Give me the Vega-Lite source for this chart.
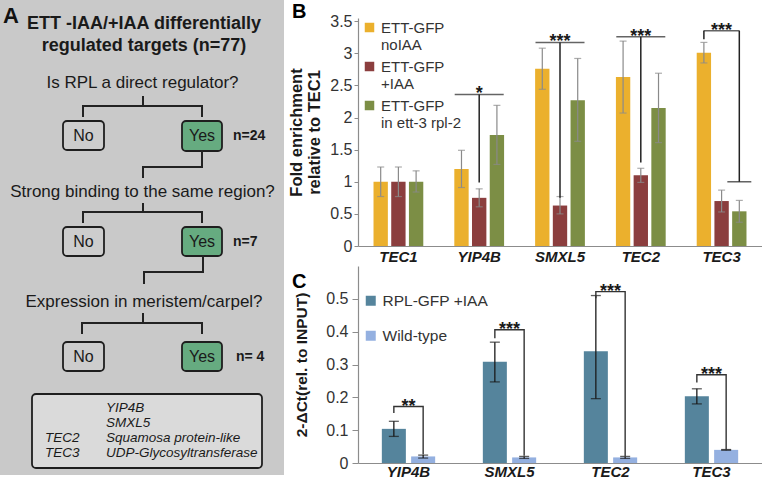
{
 "$schema": "https://vega.github.io/schema/vega-lite/v6.json",
 "padding": 0,
 "background": "white",
 "bounds": "flush",
 "spacing": 74,
 "resolve": {"scale": {"color": "independent", "fill": "independent", "xOffset": "independent"}, "legend": {"color": "independent", "fill": "independent"}},
 "config": {"font": "Liberation Sans", "view": {"stroke": null}, "axis": {"grid": false, "labelOverlap": false}, "axisY": {"labelOverlap": false}},
 "datasets": {
  "aBoxes": [
   {"x0":63,"x1":104,"y0":121,"y1":150,"kind":"no"},
   {"x0":182,"x1":222,"y0":121,"y1":151,"kind":"yes"},
   {"x0":63,"x1":104,"y0":227,"y1":256,"kind":"no"},
   {"x0":182,"x1":222,"y0":227,"y1":256,"kind":"yes"},
   {"x0":63,"x1":104,"y0":342,"y1":371,"kind":"no"},
   {"x0":182,"x1":222,"y0":342,"y1":371,"kind":"yes"},
   {"x0":32,"x1":262,"y0":394,"y1":468,"kind":"list"}
  ],
  "aLines": [
   {"x0":143,"y0":97,"x1":143,"y1":106},
   {"x0":83,"y0":106,"x1":202,"y1":106},
   {"x0":83,"y0":106,"x1":83,"y1":116},
   {"x0":202,"y0":106,"x1":202,"y1":116},
   {"x0":202,"y0":151,"x1":202,"y1":167},
   {"x0":143,"y0":167,"x1":202,"y1":167},
   {"x0":143,"y0":167,"x1":143,"y1":177},
   {"x0":143,"y0":204,"x1":143,"y1":212},
   {"x0":83,"y0":212,"x1":202,"y1":212},
   {"x0":83,"y0":212,"x1":83,"y1":222},
   {"x0":202,"y0":212,"x1":202,"y1":222},
   {"x0":203,"y0":256,"x1":203,"y1":272},
   {"x0":144,"y0":272,"x1":203,"y1":272},
   {"x0":144,"y0":272,"x1":144,"y1":283},
   {"x0":143,"y0":314,"x1":143,"y1":323},
   {"x0":82,"y0":323,"x1":202,"y1":323},
   {"x0":82,"y0":323,"x1":82,"y1":333},
   {"x0":202,"y0":323,"x1":202,"y1":333}
  ],
  "aText": [
   {"t":"A","x":3,"y":23,"role":"letter"},
   {"t":"ETT -IAA/+IAA differentially","x":144,"y":29,"role":"title"},
   {"t":"regulated targets (n=77)","x":144,"y":51,"role":"title"},
   {"t":"Is RPL a direct regulator?","x":142.5,"y":88,"role":"question"},
   {"t":"Strong binding to the same region?","x":142.5,"y":197,"role":"question"},
   {"t":"Expression in meristem/carpel?","x":144,"y":307,"role":"question"},
   {"t":"No","x":83.5,"y":136,"role":"box"},
   {"t":"Yes","x":202,"y":136,"role":"box"},
   {"t":"No","x":83.5,"y":241.5,"role":"box"},
   {"t":"Yes","x":202,"y":241.5,"role":"box"},
   {"t":"No","x":83.5,"y":357,"role":"box"},
   {"t":"Yes","x":202,"y":357,"role":"box"},
   {"t":"n=24","x":233,"y":136,"role":"n"},
   {"t":"n=7","x":233,"y":241.5,"role":"n"},
   {"t":"n= 4","x":236,"y":357,"role":"n"},
   {"t":"YIP4B","x":106,"y":412,"role":"list"},
   {"t":"SMXL5","x":106,"y":427,"role":"list"},
   {"t":"TEC2","x":45,"y":442,"role":"list"},
   {"t":"Squamosa protein-like","x":106,"y":442,"role":"list"},
   {"t":"TEC3","x":45,"y":457,"role":"list"},
   {"t":"UDP-Glycosyltransferase","x":106,"y":457,"role":"list"}
  ],
  "bData": [
   {"gene":"TEC1","series":"noIAA","value":1.0,"lo":0.77,"hi":1.23},
   {"gene":"TEC1","series":"+IAA","value":1.0,"lo":0.77,"hi":1.23},
   {"gene":"TEC1","series":"rpl","value":1.0,"lo":0.84,"hi":1.17},
   {"gene":"YIP4B","series":"noIAA","value":1.2,"lo":0.91,"hi":1.49},
   {"gene":"YIP4B","series":"+IAA","value":0.75,"lo":0.61,"hi":0.89},
   {"gene":"YIP4B","series":"rpl","value":1.73,"lo":1.27,"hi":2.19},
   {"gene":"SMXL5","series":"noIAA","value":2.76,"lo":2.44,"hi":3.08},
   {"gene":"SMXL5","series":"+IAA","value":0.63,"lo":0.5,"hi":0.77},
   {"gene":"SMXL5","series":"rpl","value":2.27,"lo":1.63,"hi":2.92},
   {"gene":"TEC2","series":"noIAA","value":2.63,"lo":2.07,"hi":3.19},
   {"gene":"TEC2","series":"+IAA","value":1.1,"lo":0.99,"hi":1.21},
   {"gene":"TEC2","series":"rpl","value":2.15,"lo":1.61,"hi":2.69},
   {"gene":"TEC3","series":"noIAA","value":3.01,"lo":2.85,"hi":3.17},
   {"gene":"TEC3","series":"+IAA","value":0.7,"lo":0.53,"hi":0.87},
   {"gene":"TEC3","series":"rpl","value":0.54,"lo":0.37,"hi":0.71}
  ],
  "bVert": [
   {"gene":"YIP4B","series":"+IAA","y1":0.99,"y2":2.36},
   {"gene":"SMXL5","series":"+IAA","y1":0.75,"y2":3.17},
   {"gene":"TEC2","series":"+IAA","y1":1.3,"y2":3.26},
   {"gene":"TEC3","series":"rpl","y1":1.0,"y2":3.35},
   {"gene":"TEC3","series":"noIAA","y1":3.22,"y2":3.35}
  ],
  "bHoriz": [
   {"gene":"YIP4B","series":"+IAA","y":2.36,"kind":"wide"},
   {"gene":"SMXL5","series":"+IAA","y":3.17,"kind":"wide"},
   {"gene":"TEC2","series":"+IAA","y":3.26,"kind":"wide"},
   {"gene":"TEC3","series":"+IAA","y":3.35,"kind":"top"},
   {"gene":"TEC3","series":"rpl","y":1.0,"kind":"low"}
  ],
  "bStars": [
   {"gene":"YIP4B","t":"*","y":2.36},
   {"gene":"SMXL5","t":"***","y":3.17},
   {"gene":"TEC2","t":"***","y":3.26},
   {"gene":"TEC3","t":"***","y":3.35}
  ],
  "cData": [
   {"gene":"YIP4B","series":"RPL-GFP +IAA","value":0.104,"lo":0.081,"hi":0.127},
   {"gene":"YIP4B","series":"Wild-type","value":0.02,"lo":0.015,"hi":0.024},
   {"gene":"SMXL5","series":"RPL-GFP +IAA","value":0.308,"lo":0.247,"hi":0.368},
   {"gene":"SMXL5","series":"Wild-type","value":0.017,"lo":0.014,"hi":0.02},
   {"gene":"TEC2","series":"RPL-GFP +IAA","value":0.34,"lo":0.196,"hi":0.51},
   {"gene":"TEC2","series":"Wild-type","value":0.017,"lo":0.014,"hi":0.02},
   {"gene":"TEC3","series":"RPL-GFP +IAA","value":0.203,"lo":0.18,"hi":0.226},
   {"gene":"TEC3","series":"Wild-type","value":0.04,"lo":0.039,"hi":0.041}
  ],
  "cBrackets": [
   {"gene":"YIP4B","series":"RPL-GFP +IAA","y":0.152,"ord":1},
   {"gene":"YIP4B","series":"RPL-GFP +IAA","y":0.172,"ord":2},
   {"gene":"YIP4B","series":"Wild-type","y":0.172,"ord":3},
   {"gene":"YIP4B","series":"Wild-type","y":0.026,"ord":4},
   {"gene":"SMXL5","series":"RPL-GFP +IAA","y":0.38,"ord":1},
   {"gene":"SMXL5","series":"RPL-GFP +IAA","y":0.406,"ord":2},
   {"gene":"SMXL5","series":"Wild-type","y":0.406,"ord":3},
   {"gene":"SMXL5","series":"Wild-type","y":0.022,"ord":4},
   {"gene":"TEC2","series":"RPL-GFP +IAA","y":0.502,"ord":1},
   {"gene":"TEC2","series":"RPL-GFP +IAA","y":0.522,"ord":2},
   {"gene":"TEC2","series":"Wild-type","y":0.522,"ord":3},
   {"gene":"TEC2","series":"Wild-type","y":0.021,"ord":4},
   {"gene":"TEC3","series":"RPL-GFP +IAA","y":0.245,"ord":1},
   {"gene":"TEC3","series":"RPL-GFP +IAA","y":0.269,"ord":2},
   {"gene":"TEC3","series":"Wild-type","y":0.269,"ord":3},
   {"gene":"TEC3","series":"Wild-type","y":0.043,"ord":4}
  ],
  "cStars": [
   {"gene":"YIP4B","t":"**","y":0.172},
   {"gene":"SMXL5","t":"***","y":0.406},
   {"gene":"TEC2","t":"***","y":0.522},
   {"gene":"TEC3","t":"***","y":0.269}
  ]
 },
 "hconcat": [
  {
   "width": 284, "height": 475,
   "view": {"fill": "#c9c9c9", "stroke": null},
   "layer": [
    {"data": {"name": "aBoxes"},
     "mark": {"type": "rect", "cornerRadius": 4, "stroke": "#1e1e1e", "strokeWidth": 1.8},
     "encoding": {
      "x": {"field": "x0", "type": "quantitative", "scale": {"domain": [0, 284], "nice": false, "zero": false}, "axis": null},
      "x2": {"field": "x1"},
      "y": {"field": "y0", "type": "quantitative", "scale": {"domain": [0, 475], "nice": false, "zero": false, "reverse": true}, "axis": null},
      "y2": {"field": "y1"},
      "fill": {"field": "kind", "type": "nominal", "scale": {"domain": ["no", "yes", "list"], "range": ["#cdcdcd", "#66ab80", "#dadada"]}, "legend": null}
     }},
    {"data": {"name": "aLines"},
     "mark": {"type": "rule", "stroke": "#222222", "strokeWidth": 2, "strokeCap": "square"},
     "encoding": {
      "x": {"field": "x0", "type": "quantitative", "axis": null},
      "x2": {"field": "x1"},
      "y": {"field": "y0", "type": "quantitative", "axis": null},
      "y2": {"field": "y1"}
     }},
    {"data": {"name": "aText"}, "transform": [{"filter": "datum.role === 'letter'"}],
     "mark": {"type": "text", "fontSize": 22, "fontWeight": "bold", "align": "left", "baseline": "alphabetic", "color": "#111"},
     "encoding": {"x": {"field": "x", "type": "quantitative", "axis": null}, "y": {"field": "y", "type": "quantitative", "axis": null}, "text": {"field": "t"}}},
    {"data": {"name": "aText"}, "transform": [{"filter": "datum.role === 'title'"}],
     "mark": {"type": "text", "fontSize": 18, "fontWeight": "bold", "align": "center", "baseline": "alphabetic", "color": "#1a1a1a"},
     "encoding": {"x": {"field": "x", "type": "quantitative", "axis": null}, "y": {"field": "y", "type": "quantitative", "axis": null}, "text": {"field": "t"}}},
    {"data": {"name": "aText"}, "transform": [{"filter": "datum.role === 'question'"}],
     "mark": {"type": "text", "fontSize": 17, "align": "center", "baseline": "alphabetic", "color": "#1a1a1a"},
     "encoding": {"x": {"field": "x", "type": "quantitative", "axis": null}, "y": {"field": "y", "type": "quantitative", "axis": null}, "text": {"field": "t"}}},
    {"data": {"name": "aText"}, "transform": [{"filter": "datum.role === 'box'"}],
     "mark": {"type": "text", "fontSize": 16, "align": "center", "baseline": "middle", "color": "#1a1a1a"},
     "encoding": {"x": {"field": "x", "type": "quantitative", "axis": null}, "y": {"field": "y", "type": "quantitative", "axis": null}, "text": {"field": "t"}}},
    {"data": {"name": "aText"}, "transform": [{"filter": "datum.role === 'n'"}],
     "mark": {"type": "text", "fontSize": 14, "fontWeight": "bold", "align": "left", "baseline": "middle", "color": "#1a1a1a"},
     "encoding": {"x": {"field": "x", "type": "quantitative", "axis": null}, "y": {"field": "y", "type": "quantitative", "axis": null}, "text": {"field": "t"}}},
    {"data": {"name": "aText"}, "transform": [{"filter": "datum.role === 'list'"}],
     "mark": {"type": "text", "fontSize": 13.5, "fontStyle": "italic", "align": "left", "baseline": "alphabetic", "color": "#1a1a1a"},
     "encoding": {"x": {"field": "x", "type": "quantitative", "axis": null}, "y": {"field": "y", "type": "quantitative", "axis": null}, "text": {"field": "t"}}}
   ]
  },
  {
   "bounds": "flush",
   "spacing": 20,
   "resolve": {"scale": {"color": "independent", "xOffset": "independent"}, "legend": {"color": "independent"}},
   "vconcat": [
    {
     "width": 404, "height": 246,
     "title": {"text": "B", "anchor": "start", "frame": "group", "fontSize": 20, "fontWeight": "bold", "color": "#000", "offset": 0, "dx": -66, "dy": 38, "baseline": "alphabetic"},
     "encoding": {
      "x": {"field": "gene", "type": "nominal", "scale": {"domain": ["TEC1", "YIP4B", "SMXL5", "TEC2", "TEC3"], "paddingInner": 0.384, "paddingOuter": 0.192},
            "axis": {"title": null, "labelAngle": 0, "labelFontSize": 15, "labelFontWeight": "bold", "labelFontStyle": "italic", "labelColor": "#1a1a1a", "ticks": false, "tickSize": 0, "labelPadding": 3, "domainColor": "#8c8c8c", "domainWidth": 1.2}},
      "y": {"type": "quantitative", "scale": {"domain": [0, 3.55], "range": [246, 18], "nice": false, "zero": false},
            "axis": {"values": [0, 0.5, 1, 1.5, 2, 2.5, 3, 3.5], "format": "~g", "labelOverlap": false, "labelFontSize": 16, "labelColor": "#333", "tickColor": "#8c8c8c", "domainColor": "#8c8c8c", "domainWidth": 1.2, "tickSize": 4, "labelPadding": 2,
                     "title": ["Fold enrichment", "relative to TEC1"], "titleFontSize": 16.5, "titleFontWeight": "bold", "titleColor": "#1a1a1a", "titlePadding": 7}}
     },
     "layer": [
      {"data": {"name": "bData"},
       "mark": {"type": "bar"},
       "encoding": {
        "xOffset": {"field": "series", "type": "nominal", "scale": {"domain": ["noIAA", "+IAA", "rpl"], "paddingInner": 0.19, "paddingOuter": 0}},
        "y": {"field": "value"},
        "color": {"field": "series", "type": "nominal",
                  "scale": {"domain": ["noIAA", "+IAA", "rpl"], "range": ["#ebb02d", "#8b3e3e", "#7c8e45"]},
                  "legend": {"orient": "none", "legendX": 4, "legendY": 20, "title": null, "symbolType": "square", "symbolSize": 90, "symbolStrokeWidth": 0,
                             "labelFontSize": 15, "labelColor": "#333", "labelLimit": 0, "rowPadding": 6,
                             "labelExpr": "datum.label === 'noIAA' ? ['ETT-GFP', 'noIAA'] : datum.label === '+IAA' ? ['ETT-GFP', '+IAA'] : ['ETT-GFP', 'in ett-3 rpl-2']"}}
       }},
      {"data": {"name": "bData"},
       "mark": {"type": "rule", "color": "#8a8a8a", "strokeWidth": 1.2},
       "encoding": {
        "xOffset": {"field": "series", "type": "nominal"},
        "y": {"field": "lo"},
        "y2": {"field": "hi"}
       }},
      {"data": {"name": "bData"},
       "mark": {"type": "tick", "color": "#8a8a8a", "thickness": 1.2, "size": 7},
       "encoding": {"xOffset": {"field": "series", "type": "nominal"}, "y": {"field": "lo"}}},
      {"data": {"name": "bData"},
       "mark": {"type": "tick", "color": "#8a8a8a", "thickness": 1.2, "size": 7},
       "encoding": {"xOffset": {"field": "series", "type": "nominal"}, "y": {"field": "hi"}}},
      {"data": {"name": "bVert"},
       "mark": {"type": "rule", "color": "#222", "strokeWidth": 1.5},
       "encoding": {"xOffset": {"field": "series", "type": "nominal"}, "y": {"field": "y1"}, "y2": {"field": "y2"}}},
      {"data": {"name": "bHoriz"}, "transform": [{"filter": "datum.kind === 'wide'"}],
       "mark": {"type": "tick", "color": "#222", "thickness": 1.5, "size": 49},
       "encoding": {"y": {"field": "y"}}},
      {"data": {"name": "bHoriz"}, "transform": [{"filter": "datum.kind === 'top'"}],
       "mark": {"type": "tick", "color": "#222", "thickness": 1.5, "size": 36},
       "encoding": {"y": {"field": "y"}}},
      {"data": {"name": "bHoriz"}, "transform": [{"filter": "datum.kind === 'low'"}],
       "mark": {"type": "tick", "color": "#222", "thickness": 1.5, "size": 24},
       "encoding": {"xOffset": {"field": "series", "type": "nominal"}, "y": {"field": "y"}}},
      {"data": {"name": "bStars"},
       "mark": {"type": "text", "fontSize": 18, "fontWeight": "bold", "baseline": "alphabetic", "dy": 5, "color": "#1a1a1a"},
       "encoding": {"y": {"field": "y"}, "text": {"field": "t"}}}
     ]
    },
    {
     "width": 404, "height": 197,
     "title": {"text": "C", "anchor": "start", "frame": "group", "fontSize": 20, "fontWeight": "bold", "color": "#000", "offset": 0, "dx": -66, "dy": 42, "baseline": "alphabetic"},
     "encoding": {
      "x": {"field": "gene", "type": "nominal", "scale": {"domain": ["YIP4B", "SMXL5", "TEC2", "TEC3"], "paddingInner": 0.472, "paddingOuter": 0.236},
            "axis": {"title": null, "labelAngle": 0, "labelFontSize": 15, "labelFontWeight": "bold", "labelFontStyle": "italic", "labelColor": "#1a1a1a", "ticks": false, "tickSize": 0, "labelPadding": 1, "domainColor": "#8c8c8c", "domainWidth": 1.2}},
      "y": {"type": "quantitative", "scale": {"domain": [0, 0.6], "nice": false, "zero": false},
            "axis": {"values": [0, 0.1, 0.2, 0.3, 0.4, 0.5], "format": "~g", "labelOverlap": false, "labelFontSize": 16, "labelColor": "#333", "tickColor": "#8c8c8c", "domainColor": "#8c8c8c", "domainWidth": 1.2, "tickSize": 6, "labelPadding": 4,
                     "title": "2-ΔCt(rel. to INPUT)", "titleFontSize": 15.5, "titleFontWeight": "bold", "titleColor": "#1a1a1a", "titlePadding": 16}}
     },
     "layer": [
      {"data": {"name": "cData"},
       "mark": {"type": "bar"},
       "encoding": {
        "xOffset": {"field": "series", "type": "nominal", "scale": {"domain": ["RPL-GFP +IAA", "Wild-type"], "paddingInner": 0.18, "paddingOuter": 0}},
        "y": {"field": "value"},
        "color": {"field": "series", "type": "nominal",
                  "scale": {"domain": ["RPL-GFP +IAA", "Wild-type"], "range": ["#55849c", "#94b0e0"]},
                  "legend": {"orient": "none", "legendX": 5, "legendY": 27, "title": null, "symbolType": "square", "symbolSize": 100, "symbolStrokeWidth": 0,
                             "labelFontSize": 15.5, "labelColor": "#333", "labelLimit": 0, "rowPadding": 18}}
       }},
      {"data": {"name": "cData"},
       "mark": {"type": "rule", "color": "#1a1a1a", "strokeWidth": 1.3},
       "encoding": {"xOffset": {"field": "series", "type": "nominal"}, "y": {"field": "lo"}, "y2": {"field": "hi"}}},
      {"data": {"name": "cData"},
       "mark": {"type": "tick", "color": "#1a1a1a", "thickness": 1.3, "size": 10},
       "encoding": {"xOffset": {"field": "series", "type": "nominal"}, "y": {"field": "lo"}}},
      {"data": {"name": "cData"},
       "mark": {"type": "tick", "color": "#1a1a1a", "thickness": 1.3, "size": 10},
       "encoding": {"xOffset": {"field": "series", "type": "nominal"}, "y": {"field": "hi"}}},
      {"data": {"name": "cBrackets"},
       "mark": {"type": "line", "color": "#333", "strokeWidth": 1.4},
       "encoding": {
        "xOffset": {"field": "series", "type": "nominal"},
        "y": {"field": "y"},
        "order": {"field": "ord", "type": "quantitative"},
        "detail": {"field": "gene", "type": "nominal"}
       }},
      {"data": {"name": "cStars"},
       "mark": {"type": "text", "fontSize": 18, "fontWeight": "bold", "baseline": "alphabetic", "dy": 5, "color": "#1a1a1a"},
       "encoding": {"y": {"field": "y"}, "text": {"field": "t"}}}
     ]
    }
   ]
  }
 ]
}
